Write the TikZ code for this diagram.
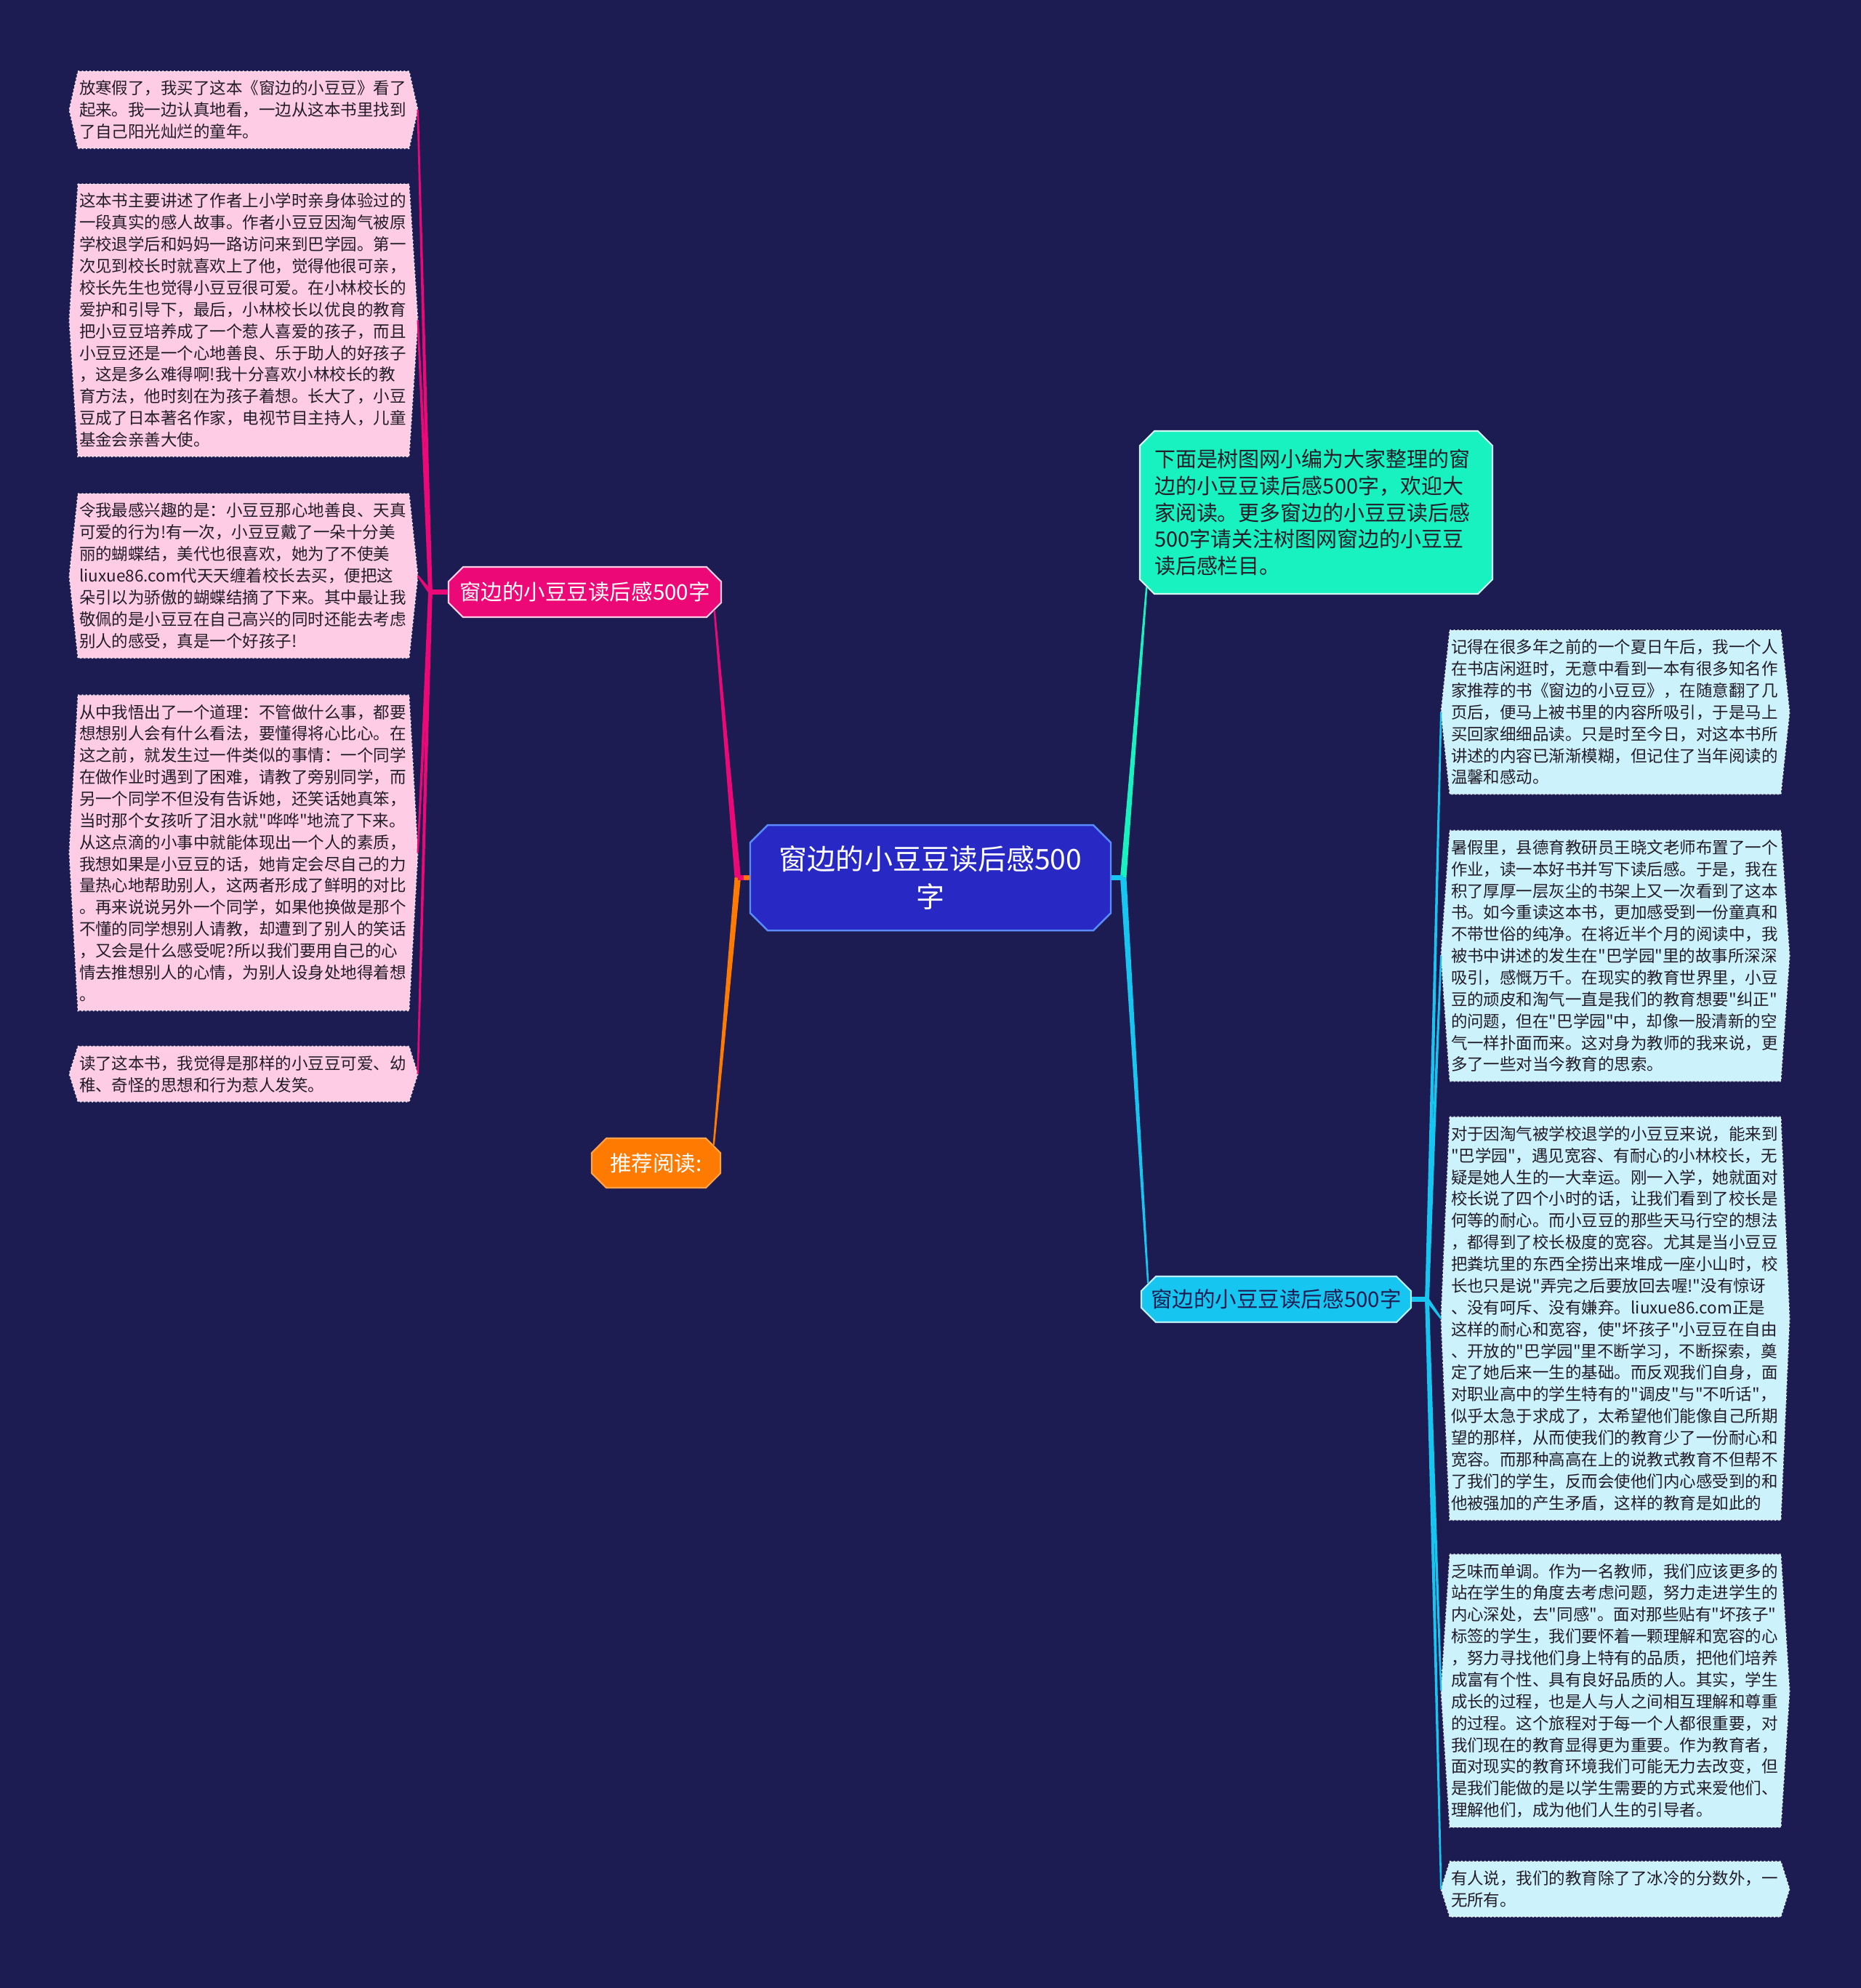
\documentclass[tikz,border=0pt]{standalone}
\usepackage{fontspec}
\setmainfont{Noto Sans CJK SC}[Ligatures=TeXOff]
\usetikzlibrary{positioning,calc,backgrounds,shapes.misc}
\definecolor{NightBg}{RGB}{29,28,82}
\definecolor{RootBlue}{RGB}{40,40,196}
\definecolor{RootEdge}{RGB}{90,140,255}
\definecolor{HotPink}{RGB}{236,8,118}
\definecolor{LeafPink}{RGB}{255,204,230}
\definecolor{TipOrange}{RGB}{255,122,0}
\definecolor{MintGreen}{RGB}{24,242,192}
\definecolor{SkyCyan}{RGB}{22,198,240}
\definecolor{LeafCyan}{RGB}{204,242,252}
\definecolor{InkDark}{RGB}{34,28,40}
\tikzset{
  rootbox/.style={chamfered rectangle,chamfered rectangle xsep=0.12cm,
    chamfered rectangle ysep=0.12cm,draw=RootEdge,line width=0.7pt,
    fill=RootBlue,text=white,align=center,inner sep=0pt,
    minimum width=4.96cm,minimum height=1.45cm,
    font=\fontsize{11.1}{15}\selectfont},
  mainbox/.style={chamfered rectangle,chamfered rectangle xsep=0.1cm,
    chamfered rectangle ysep=0.1cm,line width=0.6pt,inner sep=0pt,
    align=center,font=\fontsize{8.4}{10.5}\selectfont},
  leafbox/.style={inner xsep=0.13cm,inner ysep=0.12cm,text width=4.52cm,
    align=left,text=InkDark,font=\fontsize{6.4}{8.5}\selectfont},
  leafedge/.style={draw=white!85!gray,densely dotted,line width=0.5pt},
  stub/.style={line width=1.8pt,draw=#1}
}
% leaf outline: flat top and bottom, shallow points left and right
\newcommand{\leafshape}[2]{%
  \filldraw[fill=#2,leafedge] ($(#1.north west)+(0.12,0)$) -- ($(#1.north east)+(-0.12,0)$)
    -- (#1.east) -- ($(#1.south east)+(-0.12,0)$) -- ($(#1.south west)+(0.12,0)$)
    -- (#1.west) -- cycle;}
% tapered connector, wide at the first point
\newcommand{\twig}[4]{%
  \fill[#1] ($(#2)!#4!90:(#3)$) -- ($(#3)!0.35pt!-90:(#2)$)
    -- ($(#3)!0.35pt!90:(#2)$) -- ($(#2)!#4!-90:(#3)$) -- cycle;}

\begin{document}
\begin{tikzpicture}
  \useasboundingbox (0,0) rectangle (25.6,-27.35);

  \node[rootbox] (root) at (12.80,-12.075) {窗边的小豆豆读后感500\\字};
  \node[mainbox,draw=white!80!HotPink,fill=HotPink,text=white,
    minimum width=3.75cm,minimum height=0.69cm] (pk) at (8.045,-8.145) {窗边的小豆豆读后感500字};
  \node[mainbox,draw=TipOrange!70!white,fill=TipOrange,text=white,
    minimum width=1.77cm,minimum height=0.68cm] (rec) at (9.025,-16.00) {推荐阅读:};
  \node[mainbox,draw=white!80!MintGreen,fill=MintGreen,text=InkDark,align=left,
    text width=4.45cm,minimum width=4.85cm,minimum height=2.24cm,
    font=\fontsize{8.25}{10.5}\selectfont] (intro) at (18.105,-7.05)
    {下面是树图网小编为大家整理的窗\\边的小豆豆读后感500字，欢迎大\\家阅读。更多窗边的小豆豆读后感\\500字请关注树图网窗边的小豆豆\\读后感栏目。};
  \node[mainbox,draw=white!70!SkyCyan,fill=SkyCyan,text=NightBg,
    minimum width=3.71cm,minimum height=0.63cm] (cy) at (17.555,-17.875) {窗边的小豆豆读后感500字};

  % left leaves
  \node[leafbox,anchor=north] (l1) at (3.35,-0.98)
    {放寒假了，我买了这本《窗边的小豆豆》看了\\起来。我一边认真地看，一边从这本书里找到\\了自己阳光灿烂的童年。};
  \node[leafbox,below=0.49cm of l1] (l2)
    {这本书主要讲述了作者上小学时亲身体验过的\\一段真实的感人故事。作者小豆豆因淘气被原\\学校退学后和妈妈一路访问来到巴学园。第一\\次见到校长时就喜欢上了他，觉得他很可亲，\\校长先生也觉得小豆豆很可爱。在小林校长的\\爱护和引导下，最后，小林校长以优良的教育\\把小豆豆培养成了一个惹人喜爱的孩子，而且\\小豆豆还是一个心地善良、乐于助人的好孩子\\，这是多么难得啊!我十分喜欢小林校长的教\\育方法，他时刻在为孩子着想。长大了，小豆\\豆成了日本著名作家，电视节目主持人，儿童\\基金会亲善大使。};
  \node[leafbox,below=0.51cm of l2] (l3)
    {令我最感兴趣的是：小豆豆那心地善良、天真\\可爱的行为!有一次，小豆豆戴了一朵十分美\\丽的蝴蝶结，美代也很喜欢，她为了不使美\\liuxue86.com代天天缠着校长去买，便把这\\朵引以为骄傲的蝴蝶结摘了下来。其中最让我\\敬佩的是小豆豆在自己高兴的同时还能去考虑\\别人的感受，真是一个好孩子!};
  \node[leafbox,below=0.51cm of l3] (l4)
    {从中我悟出了一个道理：不管做什么事，都要\\想想别人会有什么看法，要懂得将心比心。在\\这之前，就发生过一件类似的事情：一个同学\\在做作业时遇到了困难，请教了旁别同学，而\\另一个同学不但没有告诉她，还笑话她真笨，\\当时那个女孩听了泪水就"哗哗"地流了下来。\\从这点滴的小事中就能体现出一个人的素质，\\我想如果是小豆豆的话，她肯定会尽自己的力\\量热心地帮助别人，这两者形成了鲜明的对比\\。再来说说另外一个同学，如果他换做是那个\\不懂的同学想别人请教，却遭到了别人的笑话\\，又会是什么感受呢?所以我们要用自己的心\\情去推想别人的心情，为别人设身处地得着想\\。};
  \node[leafbox,below=0.49cm of l4] (l5)
    {读了这本书，我觉得是那样的小豆豆可爱、幼\\稚、奇怪的思想和行为惹人发笑。};

  % right leaves
  \node[leafbox,anchor=north] (r1) at (22.22,-8.67)
    {记得在很多年之前的一个夏日午后，我一个人\\在书店闲逛时，无意中看到一本有很多知名作\\家推荐的书《窗边的小豆豆》，在随意翻了几\\页后，便马上被书里的内容所吸引，于是马上\\买回家细细品读。只是时至今日，对这本书所\\讲述的内容已渐渐模糊，但记住了当年阅读的\\温馨和感动。};
  \node[leafbox,below=0.5cm of r1] (r2)
    {暑假里，县德育教研员王晓文老师布置了一个\\作业，读一本好书并写下读后感。于是，我在\\积了厚厚一层灰尘的书架上又一次看到了这本\\书。如今重读这本书，更加感受到一份童真和\\不带世俗的纯净。在将近半个月的阅读中，我\\被书中讲述的发生在"巴学园"里的故事所深深\\吸引，感慨万千。在现实的教育世界里，小豆\\豆的顽皮和淘气一直是我们的教育想要"纠正"\\的问题，但在"巴学园"中，却像一股清新的空\\气一样扑面而来。这对身为教师的我来说，更\\多了一些对当今教育的思索。};
  \node[leafbox,below=0.49cm of r2] (r3)
    {对于因淘气被学校退学的小豆豆来说，能来到\\"巴学园"，遇见宽容、有耐心的小林校长，无\\疑是她人生的一大幸运。刚一入学，她就面对\\校长说了四个小时的话，让我们看到了校长是\\何等的耐心。而小豆豆的那些天马行空的想法\\，都得到了校长极度的宽容。尤其是当小豆豆\\把粪坑里的东西全捞出来堆成一座小山时，校\\长也只是说"弄完之后要放回去喔!"没有惊讶\\、没有呵斥、没有嫌弃。liuxue86.com正是\\这样的耐心和宽容，使"坏孩子"小豆豆在自由\\、开放的"巴学园"里不断学习，不断探索，奠\\定了她后来一生的基础。而反观我们自身，面\\对职业高中的学生特有的"调皮"与"不听话"，\\似乎太急于求成了，太希望他们能像自己所期\\望的那样，从而使我们的教育少了一份耐心和\\宽容。而那种高高在上的说教式教育不但帮不\\了我们的学生，反而会使他们内心感受到的和\\他被强加的产生矛盾，这样的教育是如此的};
  \node[leafbox,below=0.47cm of r3] (r4)
    {乏味而单调。作为一名教师，我们应该更多的\\站在学生的角度去考虑问题，努力走进学生的\\内心深处，去"同感"。面对那些贴有"坏孩子"\\标签的学生，我们要怀着一颗理解和宽容的心\\，努力寻找他们身上特有的品质，把他们培养\\成富有个性、具有良好品质的人。其实，学生\\成长的过程，也是人与人之间相互理解和尊重\\的过程。这个旅程对于每一个人都很重要，对\\我们现在的教育显得更为重要。作为教育者，\\面对现实的教育环境我们可能无力去改变，但\\是我们能做的是以学生需要的方式来爱他们、\\理解他们，成为他们人生的引导者。};
  \node[leafbox,below=0.47cm of r4] (r5)
    {有人说，我们的教育除了了冰冷的分数外，一\\无所有。};

  \coordinate (lj) at ($(root.west)+(-0.16,0)$);
  \coordinate (rj) at ($(root.east)+(0.16,0)$);
  \coordinate (pj) at ($(pk.west)+(-0.24,0)$);
  \coordinate (cj) at ($(cy.east)+(0.21,0)$);

  \begin{scope}[on background layer]
    \fill[NightBg] (0,0) rectangle (25.6,-27.35);
    \foreach \n in {l1,l2,l3,l4,l5} {\leafshape{\n}{LeafPink}}
    \foreach \n in {r1,r2,r3,r4,r5} {\leafshape{\n}{LeafCyan}}
  \end{scope}

  % connectors
  \twig{HotPink}{lj}{pk.south east}{1.2pt}
  \twig{TipOrange}{lj}{rec.north east}{1.2pt}
  \twig{MintGreen}{rj}{intro.south west}{1.2pt}
  \twig{SkyCyan}{rj}{cy.north west}{1.2pt}
  \draw[stub=HotPink] (root.west) -- (lj);
  \draw[stub=TipOrange] (root.west) -- ($(root.west)!0.5!(lj)$);
  \draw[stub=SkyCyan] (root.east) -- (rj);
  \foreach \n in {l1,l2,l3,l4,l5} {\twig{HotPink}{pj}{\n.east}{0.8pt}}
  \foreach \n in {r1,r2,r3,r4,r5} {\twig{SkyCyan}{cj}{\n.west}{0.8pt}}
  \draw[stub=HotPink] (pk.west) -- (pj);
  \draw[stub=SkyCyan] (cy.east) -- (cj);
\end{tikzpicture}
\end{document}
